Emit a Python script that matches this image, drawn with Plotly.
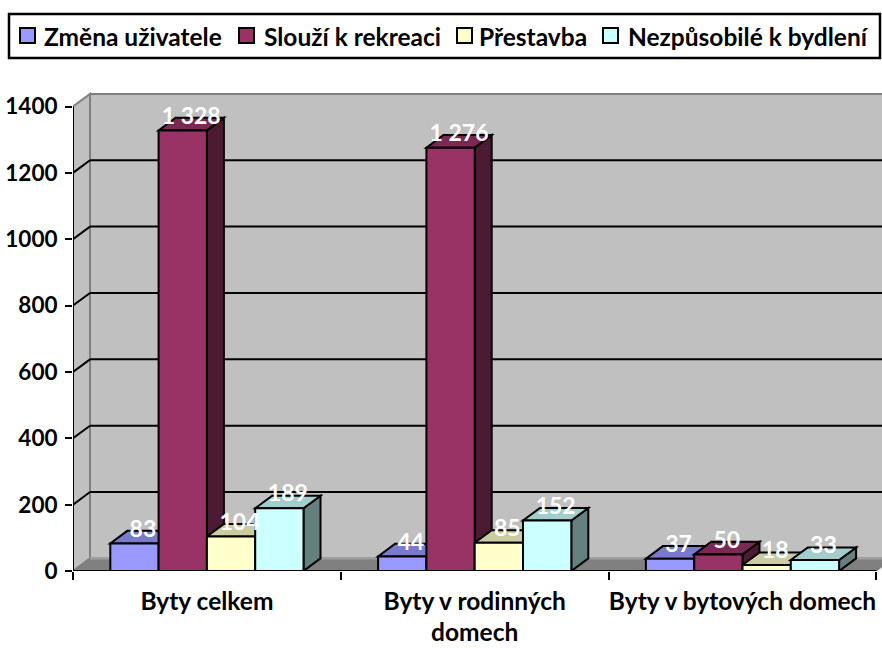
import plotly.graph_objects as go

# ---------------- data ----------------
categories = ["Byty celkem", "Byty v rodinných<br>domech", "Byty v bytových domech"]
series_names = ["Změna uživatele", "Slouží k rekreaci", "Přestavba", "Nezpůsobilé k bydlení"]
zmena_uzivatele = [83, 44, 37]
slouzi_k_rekreaci = [1328, 1276, 50]
prestavba = [104, 85, 18]
nezpusobile = [189, 152, 33]
y_ticks = [0, 200, 400, 600, 800, 1000, 1200, 1400]

series_values = [zmena_uzivatele, slouzi_k_rekreaci, prestavba, nezpusobile]

# ---------------- styling ----------------
front_colors = ["#9999FF", "#993366", "#FFFFCC", "#CCFFFF"]
top_colors = ["#7A7ACC", "#7A2952", "#CCCCA3", "#A3CCCC"]
side_colors = ["#4D4D80", "#4D1A33", "#808066", "#668080"]
FONT = "Lato"
W, H = 882, 648

# pixel geometry of the plot box
X0_PX, XEND_PX = 73, 882          # x=0 at 73 px, plot right edge
Y0_PX, YTOP_PX = 571, 92          # y=0 at 571 px, plot top edge
PX_PER_X = 267.8                  # pixels per category
PX_PER_Y = 464.5 / 1400           # pixels per value unit
DEPTH_X_PX, DEPTH_Y_PX = 17, 12.6

xmax = (XEND_PX - X0_PX) / PX_PER_X
ymax = (Y0_PX - YTOP_PX) / PX_PER_Y
dx = DEPTH_X_PX / PX_PER_X
dy = DEPTH_Y_PX / PX_PER_Y
bar_w = 48.3 / PX_PER_X
ncat = len(categories)
ymax_tick = max(y_ticks)


def px_x(p):
    return p / W


def px_y(p):
    return 1 - p / H


fig = go.Figure()
shapes = []

# walls and floor
shapes.append(dict(type="path", layer="below", xref="x", yref="y",
                   path=f"M 0,0 L 0,{ymax_tick} L {dx},{ymax_tick + dy} L {dx},{dy} Z",
                   fillcolor="#C0C0C0", line=dict(color="#808080", width=2)))
shapes.append(dict(type="rect", layer="below", xref="x", yref="y",
                   x0=dx, y0=dy, x1=xmax + 1, y1=ymax_tick + dy,
                   fillcolor="#C0C0C0", line=dict(color="#808080", width=2)))
shapes.append(dict(type="path", layer="below", xref="x", yref="y",
                   path=f"M 0,0 L {ncat},0 L {ncat + dx},{dy} L {dx},{dy} Z",
                   fillcolor="#808080", line=dict(color="#808080", width=1)))
shapes.append(dict(type="line", layer="below", xref="x", yref="y",
                   x0=dx, y0=dy, x1=xmax + 1, y1=dy,
                   line=dict(color="#A0A0A0", width=2)))

# gridlines on back wall and left wall
for v in y_ticks[1:-1]:
    shapes.append(dict(type="line", layer="below", xref="x", yref="y",
                       x0=dx, y0=v + dy, x1=xmax + 1, y1=v + dy,
                       line=dict(color="black", width=2)))
    shapes.append(dict(type="line", layer="below", xref="x", yref="y",
                       x0=0, y0=v, x1=dx, y1=v + dy,
                       line=dict(color="black", width=2)))

# 3D side and top faces, left to right
label_x, label_y, label_t = [], [], []
for i in range(ncat):
    for k, vals in enumerate(series_values):
        v = vals[i]
        xc = i + 0.5 + (k - 1.5) * bar_w
        x0b, x1b = xc - bar_w / 2, xc + bar_w / 2
        shapes.append(dict(type="path", layer="below", xref="x", yref="y",
                           path=f"M {x1b},0 L {x1b},{v} L {x1b + dx},{v + dy} L {x1b + dx},{dy} Z",
                           fillcolor=side_colors[k], line=dict(color="black", width=2)))
        shapes.append(dict(type="path", layer="below", xref="x", yref="y",
                           path=f"M {x0b},{v} L {x1b},{v} L {x1b + dx},{v + dy} L {x0b + dx},{v + dy} Z",
                           fillcolor=top_colors[k], line=dict(color="black", width=2)))
        label_x.append(xc + dx / 2)
        label_y.append(v + dy)
        label_t.append(f"{v:,}".replace(",", " "))

# front faces as bars
for k, (name, vals) in enumerate(zip(series_names, series_values)):
    fig.add_trace(go.Bar(
        x=[i + 0.5 + (k - 1.5) * bar_w for i in range(ncat)],
        y=vals, width=bar_w, name=name,
        marker=dict(color=front_colors[k], line=dict(color="black", width=2)),
        hoverinfo="y", showlegend=False,
    ))

# value labels
fig.add_trace(go.Scatter(
    x=label_x, y=label_y, text=label_t, mode="text",
    textposition="middle center",
    textfont=dict(family=FONT, size=23, color="white", weight="bold"),
    cliponaxis=False, showlegend=False, hoverinfo="skip",
))

# axis lines
shapes.append(dict(type="line", layer="above", xref="x", yref="y",
                   x0=0, y0=0, x1=0, y1=ymax_tick, line=dict(color="black", width=2)))
shapes.append(dict(type="line", layer="above", xref="x", yref="y",
                   x0=0, y0=0, x1=ncat, y1=0, line=dict(color="black", width=2)))

# manual legend
annotations = []
shapes.append(dict(type="rect", xref="paper", yref="paper",
                   x0=px_x(9), x1=px_x(880), y0=px_y(58), y1=px_y(14),
                   line=dict(color="black", width=2.5), fillcolor="white"))
sq_x = [20, 239, 457, 603]
txt_x = [42, 262, 477, 626]
for k, name in enumerate(series_names):
    shapes.append(dict(type="rect", xref="paper", yref="paper",
                       x0=px_x(sq_x[k]), x1=px_x(sq_x[k] + 15),
                       y0=px_y(43), y1=px_y(28),
                       fillcolor=front_colors[k], line=dict(color="black", width=2)))
    annotations.append(dict(xref="paper", yref="paper", x=px_x(txt_x[k]), y=px_y(36),
                            xanchor="left", yanchor="middle", showarrow=False,
                            text=name,
                            font=dict(family=FONT, size=24.5, color="black", weight="bold")))

fig.update_layout(
    template="none",
    width=W, height=H,
    margin=dict(l=0, r=0, t=0, b=0),
    paper_bgcolor="white", plot_bgcolor="white",
    barmode="overlay",
    showlegend=False,
    shapes=shapes,
    annotations=annotations,
    xaxis=dict(domain=[X0_PX / W, XEND_PX / W], range=[0, xmax],
               tickmode="array", tickvals=[i + 0.5 for i in range(ncat)], ticktext=categories,
               ticks="", showgrid=False, zeroline=False, showline=False,
               ticklabelstandoff=13, automargin=False,
               tickfont=dict(family=FONT, size=24.5, color="black", weight="bold"),
               minor=dict(tickmode="array", tickvals=list(range(ncat + 1)), ticks="outside",
                          ticklen=8, tickwidth=2, tickcolor="black", showgrid=False)),
    yaxis=dict(domain=[1 - Y0_PX / H, 1 - YTOP_PX / H], range=[0, ymax],
               tickmode="array", tickvals=y_ticks,
               ticks="outside", ticklen=7, tickwidth=2, tickcolor="black",
               showgrid=False, zeroline=False, showline=False, automargin=False,
               ticklabelstandoff=3,
               tickfont=dict(family=FONT, size=22.5, color="black", weight="bold")),
)

fig.write_html("out.html", config={"displayModeBar": False},
               post_script="document.body.style.margin='0';")
